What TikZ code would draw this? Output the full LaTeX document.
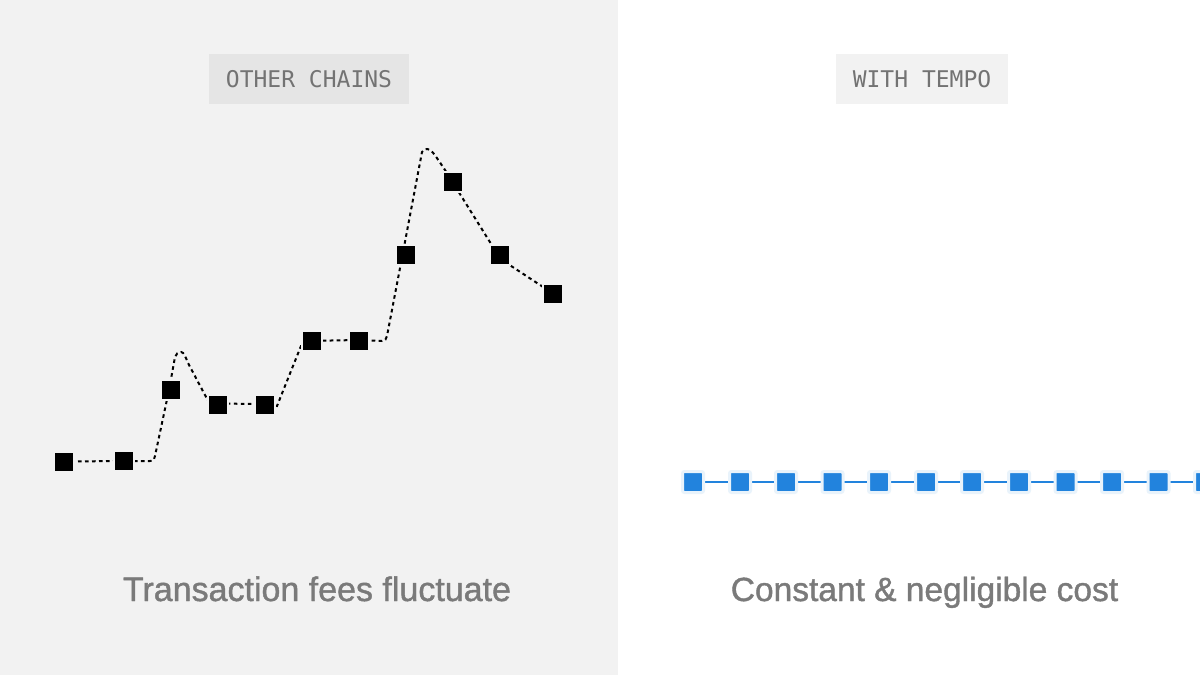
\documentclass[tikz,border=0pt]{standalone}
\usepackage{fontspec}
\setmainfont[FakeBold=1.2]{Liberation Sans}
\setmonofont{DejaVu Sans Mono}
\pgfdeclarelayer{panel}
\pgfdeclarelayer{edges}
\pgfsetlayers{panel,edges,main}
\definecolor{panelgray}{HTML}{F2F2F2}
\definecolor{tagdark}{HTML}{E5E5E5}
\definecolor{tagtext}{HTML}{737373}
\definecolor{captext}{HTML}{7A7A7A}
\definecolor{tempoblue}{HTML}{2283DD}
\definecolor{halo}{HTML}{E9F3FB}
\tikzset{
  x=1pt,y=-1pt,
  feenode/.style={draw=panelgray,line width=2pt,fill=black,minimum size=20pt,inner sep=0pt,outer sep=0pt,rectangle},
  tempodot/.style={draw=halo,line width=3pt,rounded corners=2pt,fill=tempoblue,minimum size=21pt,inner sep=0pt,outer sep=0pt,rectangle},
  feeline/.style={black,line width=2pt,dash pattern=on 3.6pt off 3.4pt},
  tempoline/.style={tempoblue,line width=2.2pt},
  tag/.style={text=tagtext,font=\ttfamily\fontsize{23}{26}\selectfont,inner sep=0pt,outer sep=0pt,minimum height=50pt,anchor=center},
  caption/.style={text=captext,inner sep=0pt,anchor=base},
}
\begin{document}
\begin{tikzpicture}
\useasboundingbox (0,0) rectangle (1200,675);
\begin{pgfonlayer}{panel}
\fill[white] (0,0) rectangle (1200,675);
\fill[panelgray] (0,0) rectangle (618,675);
\end{pgfonlayer}
\node[tag,fill=tagdark,minimum width=200pt] (tagA) at (309,79) {OTHER CHAINS};
\node[tag,fill=panelgray,minimum width=172pt] (tagB) at (922,79) {WITH TEMPO};
\node[caption,font=\fontsize{34}{38}\selectfont] (capA) at (317,601) {Transaction fees fluctuate};
\node[caption,font=\fontsize{33.5}{38}\selectfont] (capB) at (924.5,601) {Constant \& negligible cost};
% fee chart
\foreach \n/\px/\py in {a/64/461.5,b/124/461,c/171/390,d/218/405,e/265/405,f/312/340.5,g/359/340.5,h/406/255,i/453/182,j/500/255,k/553/293.5}
  \node[feenode] (\n) at (\px,\py) {};
\begin{pgfonlayer}{edges}
\draw[feeline] (a.center) -- (b.center) -- (150,461) .. controls (154,461) and (154.5,459) .. (155,456)
  -- ([xshift=-2pt]c.center) -- (175,357) .. controls (176,354) and (178,352) .. (181,352)
  .. controls (184,352) and (185.5,357) .. (188,363)
  -- ([xshift=-8.5pt,yshift=1.5pt]d.center) -- ([yshift=1pt]e.center) -- (277,406) -- (303,341) -- ([yshift=0.5pt]g.center) -- (382,341)
  .. controls (385,341) and (386.5,339) .. (387,336)
  -- ([xshift=-3.5pt]h.center) -- (422,152) .. controls (423,150) and (425,149) .. (427,149)
  .. controls (431,149) and (433,152) .. (445,170)
  -- ([xshift=0.5pt,yshift=-4pt]j.center) -- (k.center);
\end{pgfonlayer}
% tempo row
\foreach \n/\px in {t1/693,t2/740,t3/786,t4/832.5,t5/879,t6/926,t7/972,t8/1019,t9/1065.5,t10/1112,t11/1158.5,t12/1205}
  \node[tempodot] (\n) at (\px,482) {};
\begin{pgfonlayer}{edges}
\draw[tempoline] (t1.center) -- (t2.center) -- (t3.center) -- (t4.center) -- (t5.center) -- (t6.center) -- (t7.center) -- (t8.center) -- (t9.center) -- (t10.center) -- (t11.center) -- (t12.center);
\end{pgfonlayer}
\end{tikzpicture}
\end{document}
